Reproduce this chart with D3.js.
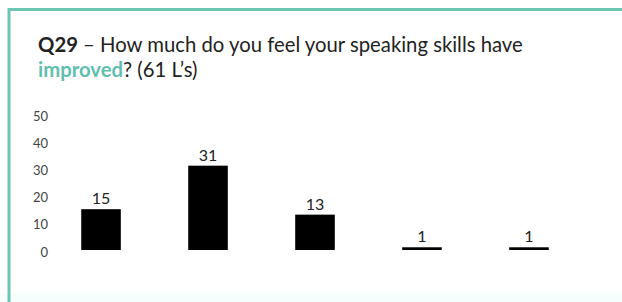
<!DOCTYPE html>
<html>
<head>
<meta charset="utf-8">
<script src="https://cdn.jsdelivr.net/npm/d3@7"></script>
<style>
  body { margin: 0; background: #fff; }
  svg { display: block; font-family: Lato, "Open Sans", sans-serif; }
</style>
</head>
<body>
<div id="chart"></div>
<script>
// answers for Q29, 61 learners
var categories = ["c1", "c2", "c3", "c4", "c5"];
var counts = [15, 31, 13, 1, 1];
var yTicks = [0, 10, 20, 30, 40, 50];

var width = 622, height = 302;
var teal = "#6cc6b3";

var svg = d3.select("#chart").append("svg")
    .attr("width", width)
    .attr("height", height);

// slide frame
svg.append("rect")
    .attr("x", 0).attr("y", 293)
    .attr("width", width).attr("height", 9)
    .attr("fill", "#f6fefd");
svg.append("line")
    .attr("x1", 8).attr("x2", width)
    .attr("y1", 9.5).attr("y2", 9.5)
    .attr("stroke", teal).attr("stroke-width", 3);
svg.append("line")
    .attr("x1", 9).attr("x2", 9)
    .attr("y1", 8).attr("y2", height)
    .attr("stroke", teal).attr("stroke-width", 3);

// title
var title = svg.append("text")
    .attr("x", 38).attr("y", 52)
    .attr("font-size", 20.3)
    .attr("fill", "#222");
title.append("tspan").attr("font-weight", "bold").text("Q29");
title.append("tspan").text(" \u2013 How much do you feel your speaking skills have");

var title2 = svg.append("text")
    .attr("x", 38).attr("y", 77)
    .attr("font-size", 20.3)
    .attr("fill", "#222");
title2.append("tspan").attr("font-weight", "bold").attr("fill", "#5fc0b0").text("improved");
title2.append("tspan").text("? (61 L\u2019s)");

var x = d3.scaleBand()
    .domain(categories)
    .range([47, 583])
    .paddingInner(0.63)
    .paddingOuter(0.32);

var y = d3.scaleLinear()
    .domain([0, 50])
    .range([250, 114]);

var yAxis = svg.append("g")
    .attr("transform", "translate(48,2)")
    .call(d3.axisLeft(y).tickValues(yTicks).tickSize(0).tickPadding(0));
yAxis.select(".domain").remove();
yAxis.selectAll("text")
    .attr("font-family", "Lato, 'Open Sans', sans-serif")
    .attr("font-size", 13)
    .attr("fill", "#444");

svg.append("g")
    .selectAll("rect")
    .data(counts)
    .enter().append("rect")
    .attr("x", function(d, i) { return x(categories[i]); })
    .attr("y", function(d) { return y(d); })
    .attr("width", x.bandwidth())
    .attr("height", function(d) { return y(0) - y(d); })
    .attr("fill", "#000");

svg.append("g")
    .selectAll("text")
    .data(counts)
    .enter().append("text")
    .attr("x", function(d, i) { return x(categories[i]) + x.bandwidth() / 2; })
    .attr("y", function(d) { return y(d) - 5; })
    .attr("text-anchor", "middle")
    .attr("font-size", 16)
    .attr("fill", "#222")
    .text(function(d) { return d; });
</script>
</body>
</html>
